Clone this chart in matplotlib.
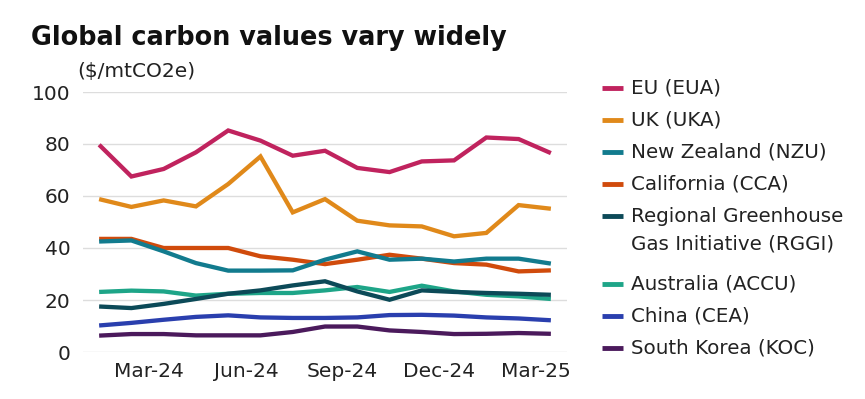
import numpy as np
import matplotlib
matplotlib.use('Agg')
import matplotlib.pyplot as plt
from matplotlib.lines import Line2D

plt.rcParams['font.family'] = ['DejaVu Sans']

# ====== DATA ======
months = ['Jan-24', 'Feb-24', 'Mar-24', 'Apr-24', 'May-24', 'Jun-24', 'Jul-24', 'Aug-24',
          'Sep-24', 'Oct-24', 'Nov-24', 'Dec-24', 'Jan-25', 'Feb-25', 'Mar-25']
tick_labels = ['Mar-24', 'Jun-24', 'Sep-24', 'Dec-24', 'Mar-25']

eu = [79.7, 67.5, 70.4, 76.8, 85.2, 81.3, 75.5, 77.4, 70.8, 69.2, 73.3, 73.7, 82.5, 81.9, 76.5]
uk = [58.8, 55.8, 58.3, 56.0, 64.6, 75.2, 53.7, 58.8, 50.5, 48.7, 48.3, 44.5, 45.8, 56.5, 55.1]
nz = [42.5, 42.9, 38.7, 34.2, 31.3, 31.3, 31.4, 35.5, 38.7, 35.5, 35.9, 34.8, 35.9, 35.9, 34.0]
cal = [43.5, 43.5, 40.0, 40.0, 40.0, 36.8, 35.5, 33.8, 35.5, 37.4, 35.9, 34.2, 33.6, 31.0, 31.4]
rggi = [17.5, 16.9, 18.5, 20.4, 22.4, 23.7, 25.6, 27.2, 23.3, 20.1, 23.7, 23.1, 22.7, 22.4, 22.0]
aus = [23.1, 23.6, 23.3, 21.7, 22.4, 22.7, 22.7, 23.7, 25.0, 23.1, 25.5, 23.3, 22.0, 21.4, 20.4]
china = [10.2, 11.2, 12.4, 13.5, 14.1, 13.3, 13.1, 13.1, 13.3, 14.2, 14.3, 14.0, 13.3, 12.9, 12.2]
korea = [6.3, 6.9, 6.9, 6.4, 6.4, 6.4, 7.7, 9.8, 9.8, 8.3, 7.7, 6.9, 7.0, 7.3, 7.0]

names = ['EU (EUA)', 'UK (UKA)', 'New Zealand (NZU)', 'California (CCA)',
         'Regional Greenhouse\nGas Initiative (RGGI)', 'Australia (ACCU)',
         'China (CEA)', 'South Korea (KOC)']
colors = ['#c0235e', '#e0891a', '#127b8e', '#d04b0c', '#0c4a58', '#1ea588', '#2a3fae', '#4b1a5c']
series = [eu, uk, nz, cal, rggi, aus, china, korea]

# ====== PLOT ======
fig = plt.figure(figsize=(8.65, 3.99), dpi=100)
ax = fig.add_axes([83/865, 1-352/399, (567-83)/865, (352-92)/399])

x = np.arange(len(months))
# draw in reverse so EU ends on top
for vals, c in reversed(list(zip(series, colors))):
    ax.plot(x, vals, color=c, lw=3.1, solid_joinstyle='miter', solid_capstyle='butt')

ax.set_ylim(0, 100)
ax.set_yticks(range(0, 101, 20))
ax.set_xlim(-0.5, 14.5)
ax.set_xticks([1.55, 4.55, 7.55, 10.55, 13.55])
ax.set_xticklabels(tick_labels)
ax.grid(axis='y', color='#dddddd', lw=1)
ax.set_axisbelow(True)
for s in ax.spines.values():
    s.set_visible(False)
ax.tick_params(length=0, labelsize=14.5, colors='#222222')
ax.tick_params(axis='y', pad=9)
ax.tick_params(axis='x', pad=7)

fig.text(31/865, 1-38/399, 'Global carbon values vary widely', fontsize=18.4,
         fontweight='bold', va='center', ha='left', color='#111111')
fig.text(77/865, 1-71/399, '($/mtCO2e)', fontsize=14.5, va='center', ha='left', color='#222222')

# legend by hand
legend_y = [88, 120, 152, 184, 216, 284, 316, 348]
for name, c, yy in zip(names, colors, legend_y):
    fy = 1-yy/399
    fig.add_artist(Line2D([602/865, 623/865], [fy, fy], color=c, lw=3.5,
                          solid_capstyle='butt', transform=fig.transFigure))
    if '\n' in name:
        first, second = name.split('\n')
        fig.text(631/865, fy, first, fontsize=14.3, va='center', ha='left', color='#222222')
        fig.text(631/865, 1-(yy+28)/399, second, fontsize=14.3, va='center', ha='left', color='#222222')
    else:
        fig.text(631/865, fy, name, fontsize=14.3, va='center', ha='left', color='#222222')

plt.savefig('out.png', dpi=100)
plt.close()
